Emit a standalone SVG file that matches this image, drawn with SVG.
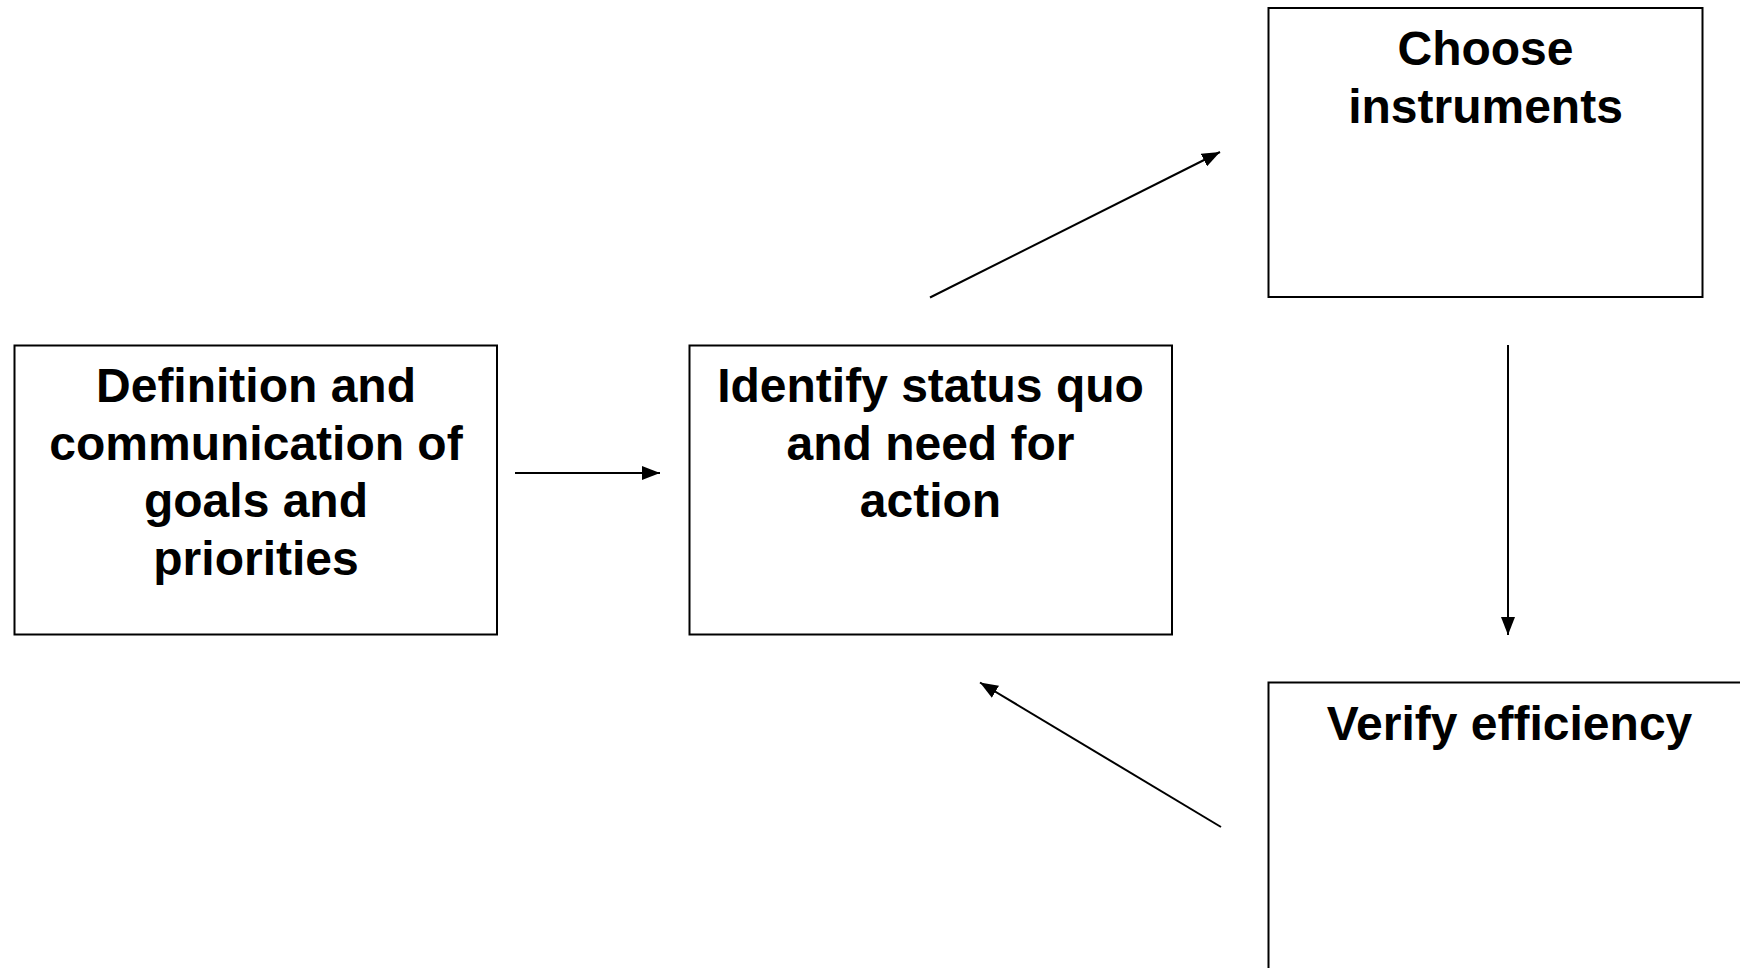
<svg xmlns="http://www.w3.org/2000/svg" width="1740" height="968" viewBox="0 0 1740 968">
  <style>
    .box { fill: #ffffff; stroke: #000000; stroke-width: 2; }
    .label { font-family: "Liberation Sans", Arial, sans-serif; font-weight: bold; font-size: 48px; fill: #000000; text-anchor: middle; }
    .link { stroke: #000000; stroke-width: 2; fill: none; marker-end: url(#arrow); }
  </style>
  <defs>
    <marker id="arrow" markerUnits="userSpaceOnUse" markerWidth="18" markerHeight="14" viewBox="0 0 18 14" refX="18" refY="7" orient="auto">
      <path d="M0,0 L18,7 L0,14 z" fill="#000000"/>
    </marker>
  </defs>
  <rect width="1740" height="968" fill="#ffffff"/>

  <g id="node-goals">
    <rect class="box" x="14.5" y="345.5" width="482.5" height="289"/>
    <text class="label" x="256" y="402">Definition and</text>
    <text class="label" x="256" y="459.5">communication of</text>
    <text class="label" x="256" y="517">goals and</text>
    <text class="label" x="256" y="574.5">priorities</text>
  </g>

  <g id="node-status">
    <rect class="box" x="689.5" y="345.5" width="482.5" height="289"/>
    <text class="label" x="930.5" y="402">Identify status quo</text>
    <text class="label" x="930.5" y="459.5">and need for</text>
    <text class="label" x="930.5" y="517">action</text>
  </g>

  <g id="node-instruments">
    <rect class="box" x="1268.5" y="8" width="434" height="289"/>
    <text class="label" x="1485.5" y="65">Choose</text>
    <text class="label" x="1485.5" y="122.5">instruments</text>
  </g>

  <g id="node-verify">
    <rect class="box" x="1268.5" y="682.5" width="482.5" height="295"/>
    <text class="label" x="1509.5" y="739.5">Verify efficiency</text>
  </g>

  <g id="connectors">
    <line class="link" x1="515" y1="473" x2="660" y2="473"/>
    <line class="link" x1="930" y1="297.5" x2="1220" y2="152"/>
    <line class="link" x1="1508" y1="345" x2="1508" y2="635"/>
    <line class="link" x1="1221" y1="827" x2="980" y2="682.5"/>
  </g>
</svg>
